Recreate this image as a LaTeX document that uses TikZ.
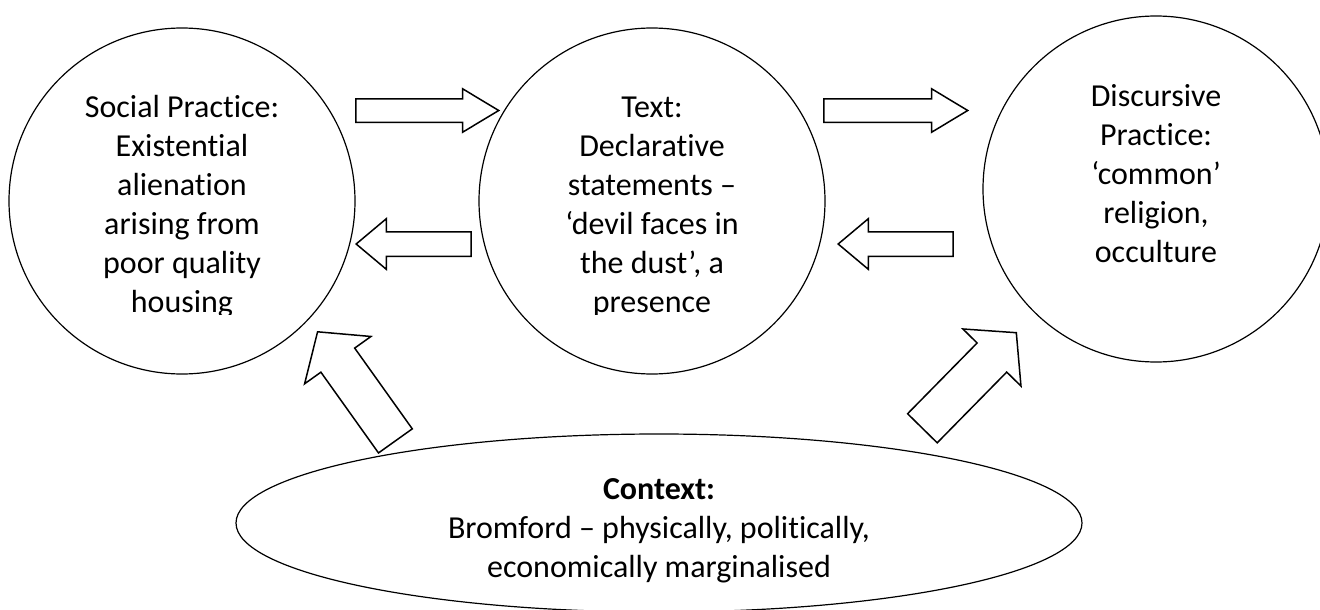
\documentclass[tikz,border=0pt]{standalone}
\usepackage{fontspec}
\setmainfont{Carlito}[Ligatures=NoCommon]
\usepackage{tikz}
\usetikzlibrary{shapes, arrows}

\begin{document}
\begin{tikzpicture}[x=1pt, y=-1pt,
			practice/.style={draw, circle, line width=1.2pt, minimum size=346pt, inner sep=0pt, node distance={470pt}},
			context/.style={draw, ellipse, line width=1.2pt, minimum width=846pt, minimum height=178pt, inner sep=0pt},
			lbl/.style={align=center, font=\fontsize{32}{39}\selectfont},
			blockarrow/.style={draw, fill=white, single arrow, single arrow head indent=0pt, line width=1.5pt, inner xsep=0pt}
			]
			\useasboundingbox (0,0) rectangle (1320,610);
			\clip (0,0) rectangle (1320,610);
			
			\node [practice](soc) at (182,201) {};
			\node [practice](txt) [right of=soc] {};
			\node [practice, label={[lbl, yshift=15pt]center:{Discursive\\Practice:\\‘common’\\religion,\\occulture}}](dis) at (1156,189) {};
			
			% text boxes cut off at the bottom
			\begin{scope}
				\clip (0,0) rectangle (1320,314);
				\node [lbl, yshift=-6pt](socText) at (soc) {Social Practice:\\Existential\\alienation\\arising from\\poor quality\\housing};
				\node [lbl, yshift=-6pt](txtText) at (txt) {Text:\\Declarative\\statements –\\‘devil faces in\\the dust’, a\\presence};
			\end{scope}
			
			\node [context, label={[lbl, yshift=-8pt]center:{\textbf{Context:}\\Bromford – physically, politically,\\economically marginalised}}](ctx) at (659,523) {};
			
			% flat arrows between the circles
			\node [blockarrow, minimum height=143pt, inner ysep=11pt, single arrow head extend=10pt, single arrow tip angle=62, anchor=tail](socTxt) at (355,110.5) {};
			\node [blockarrow, minimum height=115pt, inner ysep=11.5pt, single arrow head extend=13pt, single arrow tip angle=80, rotate=180, anchor=tip](txtSoc) at (355,244) {};
			\node [blockarrow, minimum height=144pt, inner ysep=11pt, single arrow head extend=10pt, single arrow tip angle=62, anchor=tail](txtDis) at (823,110.5) {};
			\node [blockarrow, minimum height=115pt, inner ysep=11.5pt, single arrow head extend=13pt, single arrow tip angle=80, rotate=180, anchor=tip](disTxt) at (837,244) {};
			
			% context arrows
			\node [blockarrow, minimum height=134pt, inner ysep=20pt, single arrow head extend=20pt, single arrow tip angle=99, rotate=125.5, anchor=tip](ctxSoc) at (317,331) {};
			\node [blockarrow, minimum height=134pt, inner ysep=20pt, single arrow head extend=20pt, single arrow tip angle=99, rotate=45.5, anchor=tip](ctxDis) at (1017,332) {};
		\end{tikzpicture}
\end{document}
